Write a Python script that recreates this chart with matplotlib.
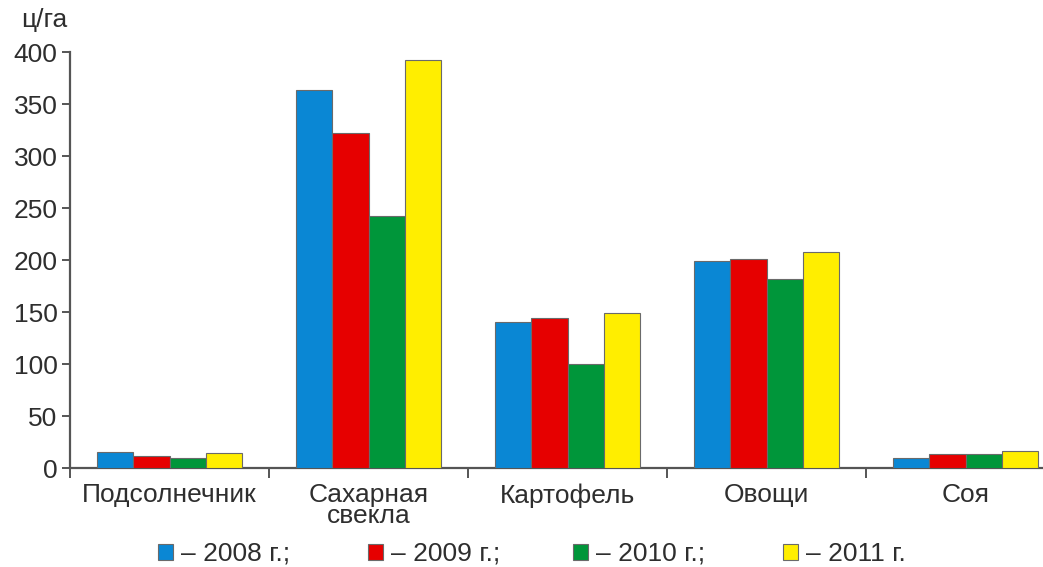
import matplotlib
matplotlib.use("Agg")
import matplotlib.pyplot as plt
import numpy as np

plt.rcParams['font.family'] = ['Liberation Sans', 'DejaVu Sans']

categories = ["Подсолнечник", "Сахарная\nсвекла", "Картофель", "Овощи", "Соя"]
years = ["– 2008 г.;", "– 2009 г.;", "– 2010 г.;", "– 2011 г."]
v2008 = [15, 363, 140, 199, 10]
v2009 = [12, 322, 144, 201, 13]
v2010 = [10, 242, 100, 182, 13]
v2011 = [14, 392, 149, 208, 16]
yticks = [0, 50, 100, 150, 200, 250, 300, 350, 400]

series = [v2008, v2009, v2010, v2011]
colors = ["#0a87d4", "#e60000", "#00963a", "#ffee00"]
txt = "#2e2e2e"
axc = "#555555"
fs = 19

fig = plt.figure(figsize=(10.43, 5.67), dpi=100)
ax = fig.add_axes([70/1043, 1-468/567, 1-70/1043, (468-52)/567])

x = np.arange(len(categories))
w = 0.183
handles = []
for i, (vals, c) in enumerate(zip(series, colors)):
    b = ax.bar(x + (i - 1.5) * w, vals, width=w, color=c, edgecolor="#6a6a6a",
               linewidth=0.8, zorder=3)
    handles.append(b)

ax.set_yticks(yticks)
ax.set_xticks(x)
ax.set_xticklabels(categories)
ax.set_xticks(np.arange(-0.5, len(categories), 1.0), minor=True)
ax.set_ylim(0, 400)
ax.set_xlim(-0.5, -0.5 + (1043-70)/199.0)
for s in ["top", "right"]:
    ax.spines[s].set_visible(False)
for s in ["left", "bottom"]:
    ax.spines[s].set_color(axc)
    ax.spines[s].set_linewidth(1.6)
ax.tick_params(axis="y", direction="out", length=6, width=1.4, color=axc,
               labelsize=fs, labelcolor=txt, pad=3)
ax.tick_params(axis="x", which="major", length=0, labelsize=fs, labelcolor=txt, pad=11)
ax.tick_params(axis="x", which="minor", direction="out", length=7, width=1.4, color=axc)
for lab in ax.get_xticklabels():
    lab.set_linespacing(0.83)

fig.text(21/1043, 1-20/567, "ц/га", fontsize=fs, color=txt, va="center", ha="left")

leg_x = [158, 368, 573, 783]
for h, lab, lx in zip(handles, years, leg_x):
    lg = fig.legend([h], [lab], loc="center left", bbox_to_anchor=(lx/1043, 1-554/567),
                    frameon=False, fontsize=fs, handlelength=0.55, handleheight=0.55,
                    handletextpad=0.33, borderpad=0, borderaxespad=0, labelcolor=txt)

fig.savefig("out.png", dpi=100)
